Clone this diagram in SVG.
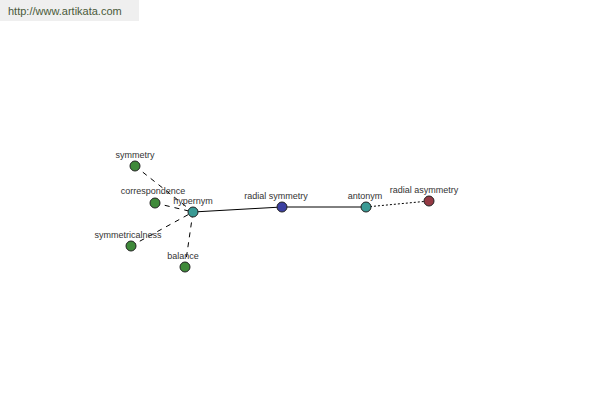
<svg xmlns="http://www.w3.org/2000/svg" width="600" height="400" viewBox="0 0 600 400">
<style>
.lbl{font-family:"Liberation Sans",Arial,sans-serif;font-size:9px;fill:#333;text-anchor:middle}
.n{stroke:#222;stroke-width:1}
.g{fill:#3f8a3a}
.t{fill:#3a9a94}
.b{fill:#3b3fa0}
.r{fill:#953a44}
.c{stroke:#000;stroke-width:1;fill:none}
</style>
<rect x="0" y="0" width="139" height="21" fill="#efefef"/>
<text x="8" y="15" style="font-family:'Liberation Sans',Arial,sans-serif;font-size:11px;fill:#4a5a3a">http://www.artikata.com</text>
<g id="connectors">
<line class="c" x1="135" y1="166" x2="193" y2="212" stroke-dasharray="5,5"/>
<line class="c" x1="155" y1="203" x2="193" y2="212" stroke-dasharray="5,5"/>
<line class="c" x1="131" y1="246" x2="193" y2="212" stroke-dasharray="5,5"/>
<line class="c" x1="185" y1="267" x2="193" y2="212" stroke-dasharray="5,5"/>
<line class="c" x1="193" y1="212" x2="282" y2="207"/>
<line class="c" x1="282" y1="207" x2="366" y2="207"/>
<line class="c" x1="366" y1="207" x2="429" y2="201" stroke-dasharray="2,2"/>
</g>
<g id="symmetry"><circle class="n g" cx="135" cy="166" r="5"/><text class="lbl" x="135" y="158">symmetry</text></g>
<g id="correspondence"><circle class="n g" cx="155" cy="203" r="5"/><text class="lbl" x="153" y="194">correspondence</text></g>
<g id="symmetricalness"><circle class="n g" cx="131" cy="246" r="5"/><text class="lbl" x="128" y="238">symmetricalness</text></g>
<g id="balance"><circle class="n g" cx="185" cy="267" r="5"/><text class="lbl" x="183" y="259">balance</text></g>
<g id="hypernym"><circle class="n t" cx="193" cy="212" r="5"/><text class="lbl" x="193" y="204">hypernym</text></g>
<g id="radial-symmetry"><circle class="n b" cx="282" cy="207" r="5"/><text class="lbl" x="276" y="199">radial symmetry</text></g>
<g id="antonym"><circle class="n t" cx="366" cy="207" r="5"/><text class="lbl" x="365" y="199">antonym</text></g>
<g id="radial-asymmetry"><circle class="n r" cx="429" cy="201" r="5"/><text class="lbl" x="424" y="193">radial asymmetry</text></g>
</svg>
